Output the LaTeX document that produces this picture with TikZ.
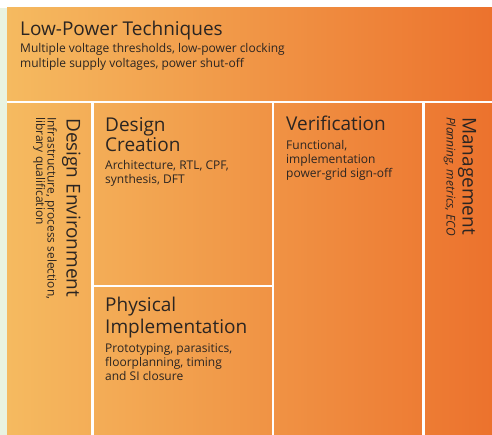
\documentclass[tikz,border=0pt]{standalone}
\usepackage{fontspec}
\setmainfont{Open Sans}
\definecolor{gl}{HTML}{F5BA60}
\definecolor{gr}{HTML}{EC722D}
\definecolor{strip}{HTML}{E9F3E1}
\definecolor{txt}{HTML}{2B2522}
\begin{document}
\begin{tikzpicture}[x=1pt,y=-1pt,
  ttl/.style={font=\fontsize{19}{21}\selectfont, text=txt, inner sep=0pt, anchor=base west},
  sub/.style={font=\fontsize{12}{14}\selectfont, text=txt, inner sep=0pt, anchor=base west},
  sep/.style={draw=white, line width=2.2pt}]
\useasboundingbox (0,0) rectangle (492,435);
\fill[white] (0,0) rectangle (492,435);
\fill[strip] (0,8) rectangle (7,435);
\shade[left color=gl, right color=gr] (7,8) rectangle (492,435);
% separators
\draw[sep] (7,102) -- (492,102);
\draw[sep] (92.5,102) -- (92.5,435);
\draw[sep] (273,102) -- (273,435);
\draw[sep] (423.5,102) -- (423.5,435);
\draw[sep] (92.5,285.7) -- (273,285.7);
% Low-Power Techniques
\node[ttl] (lpt) at (20,36) {Low-Power Techniques};
\node[sub] (lpt1) at (20,52.7) {Multiple voltage thresholds, low-power clocking};
\node[sub] (lpt2) at (20,67.7) {multiple supply voltages, power shut-off};
% Design Creation
\node[ttl] (dc1) at (105,131.7) {Design};
\node[ttl] (dc2) at (105,151.7) {Creation};
\node[sub] (dcs1) at (105,170) {Architecture, RTL, CPF,};
\node[sub] (dcs2) at (105,183.5) {synthesis, DFT};
% Verification
\node[ttl] (ver) at (286,131) {Verification};
\node[sub] (vers1) at (286,150) {Functional,};
\node[sub] (vers2) at (286,164) {implementation};
\node[sub] (vers3) at (286,177.7) {power-grid sign-off};
% Physical Implementation
\node[ttl] (pi1) at (105,311.7) {Physical};
\node[ttl] (pi2) at (105,333.3) {Implementation};
\node[sub] (pis1) at (105,352.3) {Prototyping, parasitics,};
\node[sub] (pis2) at (105,366) {floorplanning, timing};
\node[sub] (pis3) at (105,380) {and SI closure};
% Design Environment (rotated)
\node[ttl, rotate=-90] (de) at (66.5,118) {Design Environment};
\node[sub, rotate=-90] (des1) at (47.5,117) {Infrastructure, process selection,};
\node[sub, rotate=-90] (des2) at (36,117) {library qualification};
% Management (rotated)
\node[ttl, rotate=-90] (mg) at (462.5,117) {Management};
\node[sub, rotate=-90, font=\fontsize{12}{14}\selectfont\itshape] (mgs) at (446.5,117) {Planning, metrics, ECO};
\end{tikzpicture}
\end{document}
